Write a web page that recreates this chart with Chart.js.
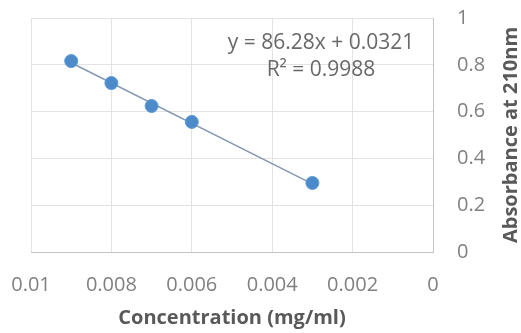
<!DOCTYPE html>
<html>
<head>
<meta charset="utf-8">
<script src="https://cdn.jsdelivr.net/npm/chart.js@4"></script>
<style>
  html, body { margin: 0; padding: 0; background: #fff; }
  #wrap { width: 521px; height: 333px; }
</style>
</head>
<body>
<div id="wrap"><canvas id="myChart" width="521" height="333"></canvas></div>
<script>
// measured points
const concentration = [0.009, 0.008, 0.007, 0.006, 0.003];
const absorbance = [0.816, 0.722, 0.624, 0.556, 0.295];

// linear trendline end points (y = 86.28x + 0.0321)
const trendX = [0.009, 0.003];
const trendY = [0.8086, 0.2909];

const equationLines = ['y = 86.28x + 0.0321', 'R² = 0.9988'];
const xTitle = 'Concentration (mg/ml)';
const yTitle = 'Absorbance at 210nm';

const tickColor = '#808080';
const gridColor = '#e3e3e3';

const annotate = {
  id: 'annotate',
  afterDraw(chart) {
    const ctx = chart.ctx;
    const area = chart.chartArea;
    ctx.save();
    // trendline equation
    ctx.fillStyle = '#686868';
    ctx.font = '21px "Open Sans"';
    ctx.textAlign = 'center';
    ctx.textBaseline = 'middle';
    ctx.fillText(equationLines[0], area.right - 112, area.top + 25);
    ctx.fillText(equationLines[1], area.right - 112, area.top + 52);
    // y axis title on the right, reading upwards
    ctx.fillStyle = '#595959';
    ctx.font = 'bold 20px "Open Sans"';
    ctx.translate(511, (area.top + area.bottom) / 2);
    ctx.rotate(-Math.PI / 2);
    ctx.fillText(yTitle, 0, 0);
    ctx.restore();
  }
};

const data = {
  datasets: [
    {
      label: 'trend',
      data: trendX.map((x, i) => ({ x: x, y: trendY[i] })),
      showLine: true,
      borderColor: '#8499b3',
      borderWidth: 1.5,
      pointRadius: 0,
      order: 2
    },
    {
      label: 'Absorbance',
      data: concentration.map((x, i) => ({ x: x, y: absorbance[i] })),
      backgroundColor: '#4d8aca',
      borderColor: '#5b9bd5',
      borderWidth: 1,
      pointRadius: 6.5,
      order: 1
    }
  ]
};

const config = {
  type: 'scatter',
  data: data,
  options: {
    responsive: false,
    animation: false,
    devicePixelRatio: 1,
    layout: { padding: { left: 31, top: 18, right: 0, bottom: 0 } },
    plugins: {
      legend: { display: false },
      tooltip: { enabled: false }
    },
    scales: {
      x: {
        type: 'linear',
        reverse: true,
        min: 0,
        max: 0.01,
        ticks: {
          stepSize: 0.002,
          padding: 21,
          color: tickColor,
          font: { family: 'Open Sans', size: 20 },
          maxRotation: 0,
          callback: v => String(Number(v.toFixed(3)))
        },
        grid: { color: gridColor, drawTicks: false },
        border: { color: '#c4c4c4' },
        title: {
          display: true,
          text: xTitle,
          color: '#595959',
          font: { family: 'Open Sans', size: 20, weight: 'bold' },
          padding: { top: 0, bottom: 3 }
        },
        afterFit: s => { s.height = 81; s.paddingLeft = 0; s.paddingRight = 0; }
      },
      y: {
        position: 'right',
        min: 0,
        max: 1,
        ticks: {
          stepSize: 0.2,
          padding: 24,
          crossAlign: 'near',
          color: tickColor,
          font: { family: 'Open Sans', size: 20 },
          callback: v => String(Number(v.toFixed(1)))
        },
        grid: { color: gridColor, drawTicks: false },
        border: { color: '#c4c4c4' },
        afterFit: s => { s.width = 88; s.paddingTop = 0; s.paddingBottom = 0; }
      }
    }
  },
  plugins: [annotate]
};

const myChart = new Chart(document.getElementById('myChart'), config);
</script>
</body>
</html>
